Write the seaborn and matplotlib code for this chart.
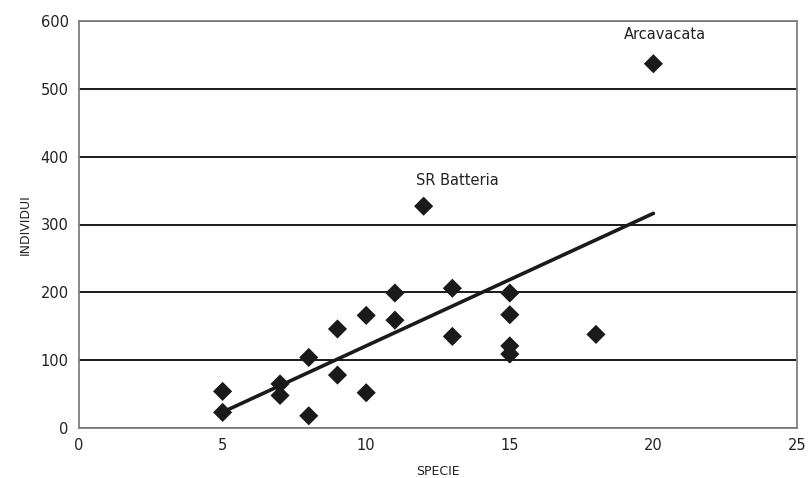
import numpy as np
import pandas as pd
import matplotlib
matplotlib.use("Agg")
import matplotlib.pyplot as plt
import seaborn as sns

specie = [5, 5, 7, 7, 8, 8, 9, 9, 10, 10, 11, 11, 12, 13, 13, 15, 15, 15, 15, 18, 20]
individui = [54, 23, 65, 48, 18, 104, 146, 78, 166, 52, 199, 159, 327, 206, 135, 199, 167, 121, 109, 138, 537]
label_names = ["Arcavacata", "SR Batteria"]
label_x = [20, 12]
label_y = [537, 327]

df = pd.DataFrame({"SPECIE": specie, "INDIVIDUI": individui})

sns.set_theme(style="white")
plt.rcParams["font.family"] = ["DejaVu Sans"]

fig = plt.figure(figsize=(8.09, 4.78), dpi=100)
ax = fig.add_axes([79/809, 1 - 428/478, (797-79)/809, (428-21)/478])

ax.set_xlim(0, 25)
ax.set_ylim(0, 600)
ax.set_yticks(range(0, 601, 100))
ax.set_xticks(range(0, 26, 5))
ax.yaxis.grid(True, color="#1a1a1a", linewidth=1.4)
ax.set_axisbelow(True)

sns.scatterplot(data=df, x="SPECIE", y="INDIVIDUI", marker="D", s=95,
                color="#1a1a1a", edgecolor="none", ax=ax, zorder=3)

# linear trend line over data range
coef = np.polyfit(df["SPECIE"], df["INDIVIDUI"], 1)
xs = np.array([min(specie), max(specie)])
sns.lineplot(x=xs, y=np.polyval(coef, xs), color="#1a1a1a", linewidth=2.6, ax=ax, zorder=4)

for name, lx, ly, off in zip(label_names, label_x, label_y, [(-30, 22), (-8, 18)]):
    ax.annotate(name, (lx, ly), xytext=off, textcoords="offset pixels",
                ha="left", va="bottom", fontsize=10.5, color="#222222")

for s in ax.spines.values():
    s.set_color("#808080")
    s.set_linewidth(1.3)

ax.tick_params(axis="both", which="both", length=4, color="#808080", labelsize=10.5,
               labelcolor="#222222", direction="out", width=1)
ax.set_xlabel("SPECIE", fontsize=9, color="#222222", labelpad=8)
ax.set_ylabel("INDIVIDUI", fontsize=9, color="#222222", labelpad=6)

fig.savefig("out.png", dpi=100)
